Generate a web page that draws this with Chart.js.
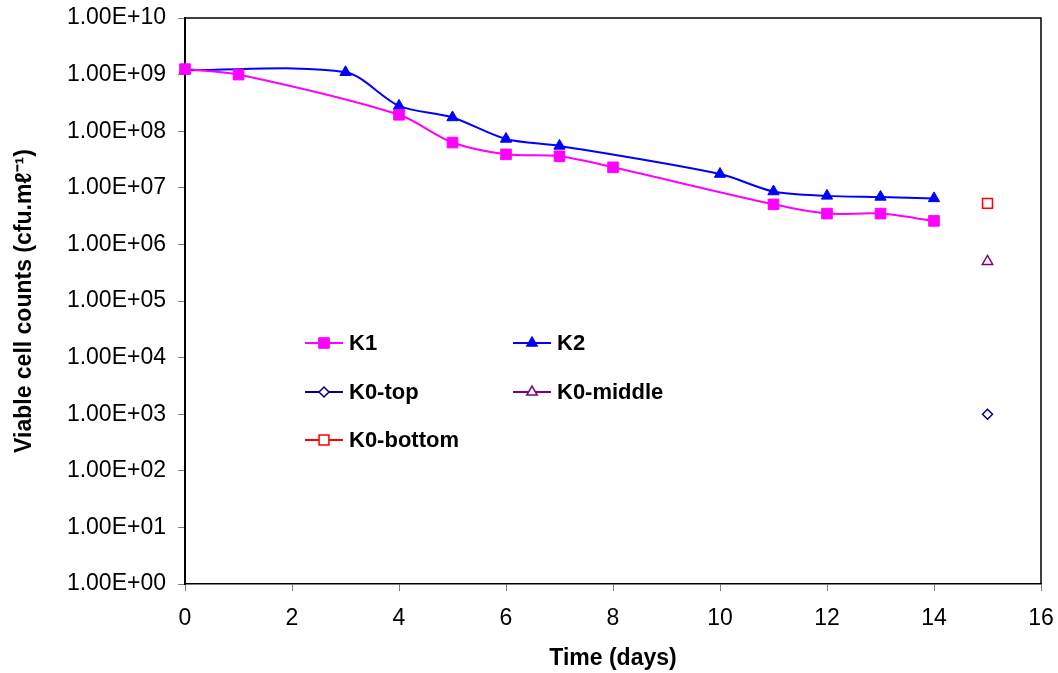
<!DOCTYPE html>
<html>
<head>
<meta charset="utf-8">
<script src="https://cdn.jsdelivr.net/npm/chart.js@4/dist/chart.umd.min.js"></script>
<style>
  body { margin: 0; background: #fff; }
  canvas { display: block; }
</style>
</head>
<body>
<canvas id="cells" width="1058" height="673"></canvas>
<script>
// values (cfu per ml)
const k1Days = [0, 1, 4, 5, 6, 7, 8, 11, 12, 13, 14];
const k1Counts = [1.25e9, 1.0e9, 1.95e8, 6.3e7, 3.9e7, 3.6e7, 2.3e7, 5.1e6, 3.5e6, 3.5e6, 2.6e6];

const k2Days = [0, 3, 4, 5, 6, 7, 10, 11, 12, 13, 14];
const k2Counts = [1.2e9, 1.1e9, 2.8e8, 1.75e8, 7.3e7, 5.5e7, 1.75e7, 8.6e6, 7.2e6, 6.9e6, 6.5e6];

const k0Day = 15;
const k0Labels = ['K0-top', 'K0-middle', 'K0-bottom'];
const k0Counts = [1.0e3, 5.0e5, 5.3e6];

const xTicks = [0, 2, 4, 6, 8, 10, 12, 14, 16];
const yPowers = [0, 1, 2, 3, 4, 5, 6, 7, 8, 9, 10];

const FONT = '"Liberation Sans", Arial, Helvetica, sans-serif';

const pairs = (xs, ys) => xs.map((x, i) => ({ x: x, y: ys[i] }));

const k0Styles = [
  { color: '#000080', style: 'rectRot', radius: 5 },
  { color: '#800080', style: 'triangle', radius: 6 },
  { color: '#FF0000', style: 'rect', radius: 7 }
];

const datasets = [
  {
    label: 'K1',
    data: pairs(k1Days, k1Counts),
    borderColor: '#FF00FF',
    backgroundColor: '#FF00FF',
    borderWidth: 2,
    tension: 0.3,
    pointStyle: 'rect',
    pointRadius: 7.5,
    pointBorderWidth: 1,
    clip: false
  },
  {
    label: 'K2',
    data: pairs(k2Days, k2Counts),
    borderColor: '#0000FF',
    backgroundColor: '#0000FF',
    borderWidth: 2,
    tension: 0.3,
    pointStyle: 'triangle',
    pointRadius: 6.5,
    pointBorderWidth: 1,
    clip: false
  }
].concat(k0Labels.map((name, i) => ({
  label: name,
  data: [{ x: k0Day, y: k0Counts[i] }],
  borderColor: k0Styles[i].color,
  backgroundColor: '#FFFFFF',
  borderWidth: 2,
  showLine: false,
  pointStyle: k0Styles[i].style,
  pointRadius: k0Styles[i].radius,
  pointBorderWidth: 1.5,
  clip: false
})));

// legend sits inside the plot, two columns
const legendSpots = [[305, 343], [513, 343], [305, 392], [513, 392], [305, 440]];

const insideLegend = {
  id: 'insideLegend',
  afterDatasetsDraw(chart) {
    const ctx = chart.ctx;
    ctx.save();
    chart.data.datasets.forEach((ds, i) => {
      const [x, y] = legendSpots[i];
      ctx.strokeStyle = ds.borderColor;
      ctx.lineWidth = 2;
      ctx.beginPath();
      ctx.moveTo(x, y);
      ctx.lineTo(x + 38, y);
      ctx.stroke();
      ctx.fillStyle = ds.backgroundColor;
      ctx.lineWidth = ds.pointBorderWidth;
      Chart.helpers.drawPoint(ctx, {
        pointStyle: ds.pointStyle,
        radius: ds.pointRadius,
        borderWidth: ds.pointBorderWidth,
        rotation: 0
      }, x + 19, y);
      ctx.fillStyle = '#000';
      ctx.font = 'bold 22px ' + FONT;
      ctx.textBaseline = 'middle';
      ctx.textAlign = 'left';
      ctx.fillText(ds.label, x + 44, y + 1);
    });
    ctx.restore();
  }
};

// thin frame on top and right of the plot area
const plotFrame = {
  id: 'plotFrame',
  beforeDatasetsDraw(chart) {
    const { ctx, chartArea: a } = chart;
    ctx.save();
    ctx.strokeStyle = '#000';
    ctx.lineWidth = 1.5;
    ctx.beginPath();
    ctx.moveTo(a.left, a.top);
    ctx.lineTo(a.right, a.top);
    ctx.lineTo(a.right, a.bottom);
    ctx.stroke();
    ctx.restore();
  }
};

new Chart(document.getElementById('cells'), {
  type: 'line',
  data: { datasets: datasets },
  plugins: [plotFrame, insideLegend],
  options: {
    responsive: false,
    animation: false,
    layout: { padding: { left: 0, top: 18, right: 17, bottom: 0 } },
    plugins: {
      legend: { display: false },
      tooltip: { enabled: false }
    },
    scales: {
      x: {
        type: 'linear',
        min: 0,
        max: 16,
        afterBuildTicks: (scale) => { scale.ticks = xTicks.map(v => ({ value: v })); },
        afterFit: (scale) => {
          scale.height = 89;
          scale.paddingLeft = 0;
          scale.paddingRight = 0;
        },
        ticks: {
          color: '#000',
          font: { family: FONT, size: 23 },
          padding: 14,
          maxRotation: 0
        },
        grid: { drawOnChartArea: false, tickLength: 7, color: '#808080' },
        border: { color: '#000', width: 1.5 },
        title: {
          display: true,
          text: 'Time (days)',
          color: '#000',
          font: { family: FONT, size: 23, weight: 'bold' },
          padding: { top: 0, bottom: 1 }
        }
      },
      y: {
        type: 'logarithmic',
        min: 1,
        max: 1e10,
        afterBuildTicks: (scale) => { scale.ticks = yPowers.map(p => ({ value: Math.pow(10, p) })); },
        afterFit: (scale) => {
          scale.width = 185;
          scale.paddingTop = 0;
          scale.paddingBottom = 0;
        },
        ticks: {
          color: '#000',
          font: { family: FONT, size: 23 },
          padding: 12,
          callback: (v) => {
            const p = Math.round(Math.log10(v));
            return '1.00E+' + String(p).padStart(2, '0');
          }
        },
        grid: { drawOnChartArea: false, tickLength: 7, color: '#808080' },
        border: { color: '#000', width: 2 },
        title: {
          display: true,
          text: 'Viable cell counts (cfu.mℓ⁻¹)',
          color: '#000',
          font: { family: FONT, size: 23, weight: 'bold' },
          padding: { top: 11, bottom: 0 }
        }
      }
    }
  }
});
</script>
</body>
</html>
